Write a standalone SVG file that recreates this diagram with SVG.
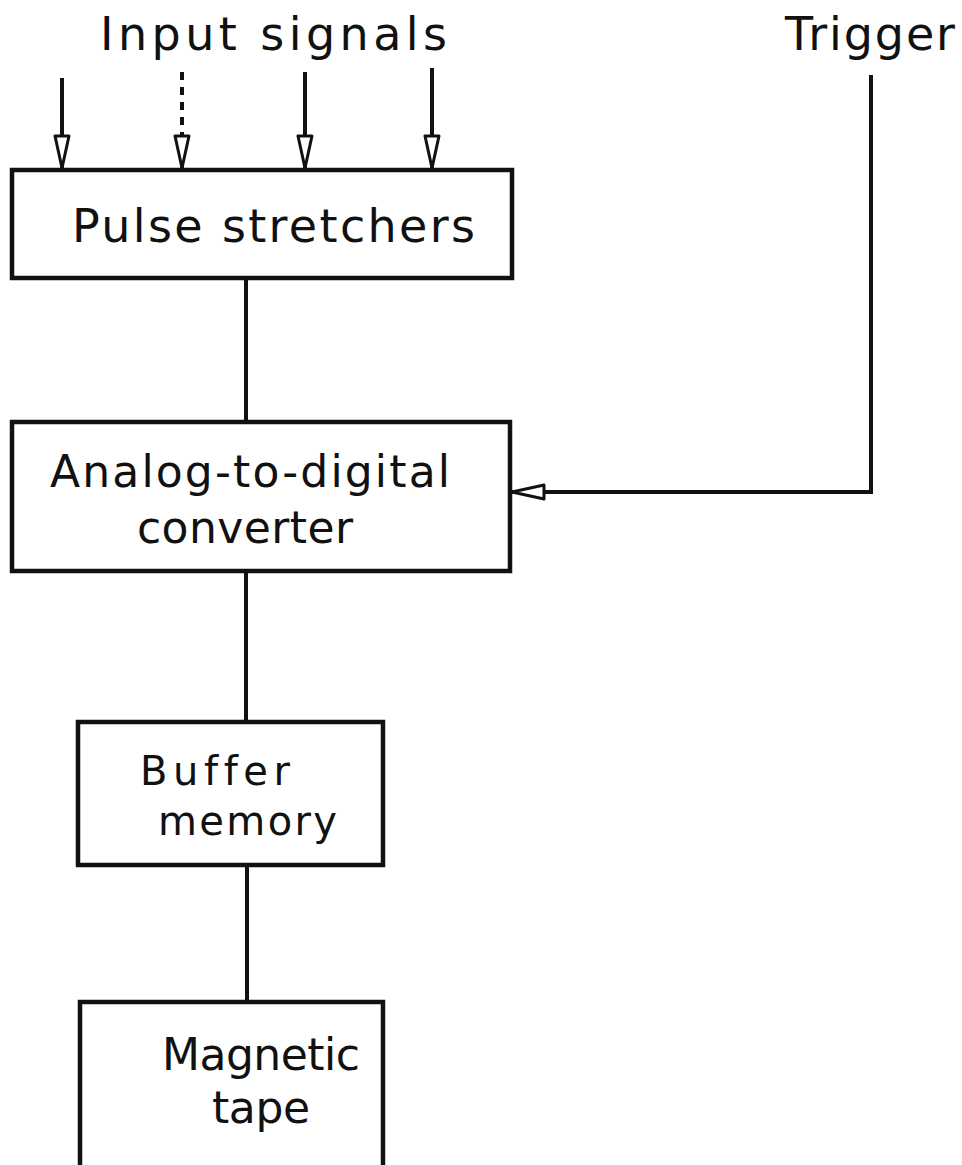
<svg xmlns="http://www.w3.org/2000/svg" width="962" height="1165" viewBox="0 0 962 1165">
<defs>
<style>
.box{fill:#fff;stroke:#111;stroke-width:4.5}
.ln{fill:none;stroke:#111;stroke-width:4}
.lbl{font-family:"DejaVu Sans","Liberation Sans",sans-serif;font-size:46px;fill:#111;font-variant-ligatures:none}
.md{font-size:44px}
.sm{font-size:40px}
</style>
<marker id="oa" viewBox="0 0 36 18" refX="34" refY="9" markerWidth="36" markerHeight="18" markerUnits="userSpaceOnUse" orient="auto">
<path d="M2,2 L34,9 L2,16 Z" fill="#fff" stroke="#111" stroke-width="3" stroke-linejoin="round"/>
</marker>
</defs>
<rect width="962" height="1165" fill="#fff"/>
<g id="labels">
<text class="lbl" x="100" y="50" textLength="347" lengthAdjust="spacing">Input signals</text>
<text class="lbl" x="785" y="50" textLength="170" lengthAdjust="spacing">Trigger</text>
</g>
<g id="connectors">
<path class="ln" d="M62,78 V168" marker-end="url(#oa)"/>
<path class="ln" d="M182,72 V168" stroke-dasharray="8,7" marker-end="url(#oa)"/>
<path class="ln" d="M305,72 V168" marker-end="url(#oa)"/>
<path class="ln" d="M432,68 V168" marker-end="url(#oa)"/>
<path class="ln" d="M246,278 V422"/>
<path class="ln" d="M871,75 V492 H512" marker-end="url(#oa)"/>
<path class="ln" d="M246,571 V722"/>
<path class="ln" d="M247,865 V1002"/>
</g>
<g id="pulse">
<rect class="box" x="12" y="170" width="500" height="108"/>
<text class="lbl" x="72" y="242" textLength="403" lengthAdjust="spacing">Pulse stretchers</text>
</g>
<g id="adc">
<rect class="box" x="12" y="422" width="498" height="149"/>
<text class="lbl md" x="50" y="487" textLength="400" lengthAdjust="spacing">Analog-to-digital</text>
<text class="lbl md" x="137" y="543" textLength="216" lengthAdjust="spacing">converter</text>
</g>
<g id="buffer">
<rect class="box" x="78" y="722" width="305" height="143"/>
<text class="lbl sm" x="140" y="785" textLength="150" lengthAdjust="spacing">Buffer</text>
<text class="lbl sm" x="158" y="835" textLength="179" lengthAdjust="spacing">memory</text>
</g>
<g id="tape">
<rect class="box" x="80" y="1002" width="303" height="180"/>
<text class="lbl md" x="162" y="1070" textLength="198" lengthAdjust="spacing">Magnetic</text>
<text class="lbl md" x="212" y="1123" textLength="98" lengthAdjust="spacing">tape</text>
</g>
</svg>
